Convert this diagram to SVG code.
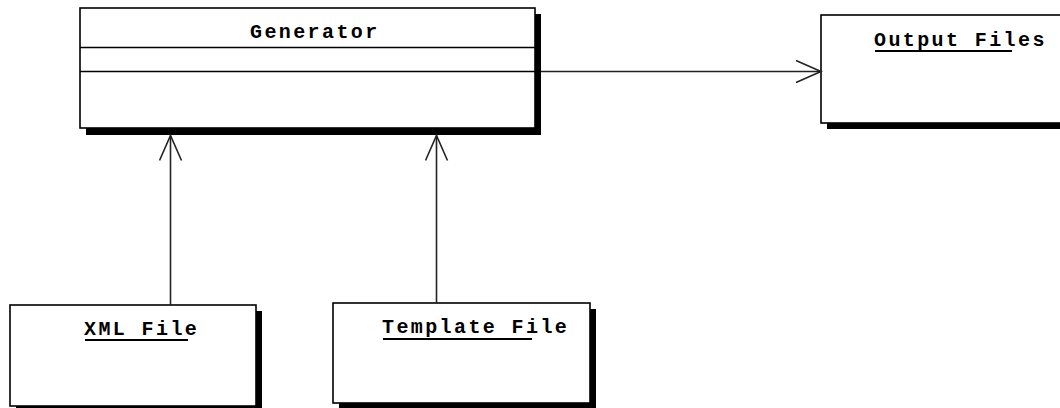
<svg xmlns="http://www.w3.org/2000/svg" width="1060" height="408" viewBox="0 0 1060 408">
<style>
.box{fill:#fff;stroke:#000;stroke-width:1.6}
.shadow{fill:#000}
.lbl{font-family:"Liberation Mono",monospace;font-weight:bold;font-size:20px;letter-spacing:2.4px;fill:#000}
.ul{stroke:#000;stroke-width:1.8}
.conn{stroke:#222;stroke-width:1.6;fill:none}
</style>
<defs>
<marker id="open" markerWidth="30" markerHeight="26" refX="26" refY="12" orient="auto" markerUnits="userSpaceOnUse">
<path d="M1,1 L26,12 L1,23" fill="none" stroke="#222" stroke-width="1.6"/>
</marker>
</defs>
<rect width="1060" height="408" fill="#fff"/>
<g id="generator">
<rect class="shadow" x="86" y="14" width="455" height="121"/>
<rect class="box" x="80" y="8" width="455" height="120"/>
<line x1="80" y1="47.5" x2="535" y2="47.5" stroke="#000" stroke-width="1.6"/>
<line x1="80" y1="71.5" x2="535" y2="71.5" stroke="#000" stroke-width="1.6"/>
<text class="lbl" x="250" y="38">Generator</text>
</g>
<g id="output-files">
<rect class="shadow" x="827" y="21" width="250" height="108"/>
<rect class="box" x="821" y="15" width="250" height="108"/>
<text class="lbl" x="874" y="46">Output Files</text>
<line class="ul" x1="875" y1="51" x2="1012" y2="51"/>
</g>
<g id="xml-file">
<rect class="shadow" x="16" y="311" width="246" height="101"/>
<rect class="box" x="10" y="305" width="246" height="101"/>
<text class="lbl" x="84" y="335">XML File</text>
<line class="ul" x1="85" y1="340" x2="188" y2="340"/>
</g>
<g id="template-file">
<rect class="shadow" x="339" y="309" width="257" height="100"/>
<rect class="box" x="333" y="303" width="257" height="100"/>
<text class="lbl" x="382" y="333">Template File</text>
<line class="ul" x1="383" y1="339" x2="532" y2="339"/>
</g>
<g id="connectors">
<line class="conn" x1="541" y1="71.5" x2="821" y2="71.5" marker-end="url(#open)"/>
<line class="conn" x1="170.5" y1="305" x2="170.5" y2="135.5" marker-end="url(#open)"/>
<line class="conn" x1="436.5" y1="303" x2="436.5" y2="135.5" marker-end="url(#open)"/>
</g>
</svg>
